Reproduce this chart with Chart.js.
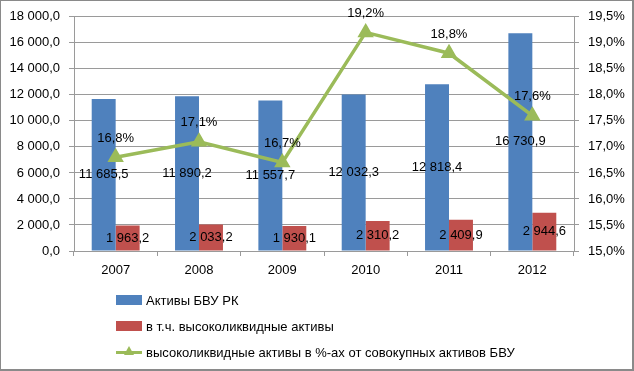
<!DOCTYPE html>
<html>
<head>
<meta charset="utf-8">
<script src="https://cdn.jsdelivr.net/npm/chart.js@4"></script>
<style>
body{margin:0;background:#fff;font-family:"Liberation Sans",Arial,sans-serif;}
#wrap{position:relative;width:634px;height:371px;}
#frame{position:absolute;left:0;top:0;width:634px;height:371px;box-sizing:border-box;border:1px solid #8a8a8a;border-right-width:2px;border-bottom-width:2px;pointer-events:none;}
.lg{position:absolute;left:116px;height:16px;display:flex;align-items:center;font-size:13px;color:#000;}
.sw{width:26px;height:10px;margin-right:4px;}
.ln{position:relative;width:26px;height:3px;background:#9bbb59;margin-right:4px;}
.ln i{position:absolute;left:8px;top:-5px;width:0;height:0;border-left:5px solid transparent;border-right:5px solid transparent;border-bottom:9px solid #9bbb59;}
</style>
</head>
<body>
<div id="wrap">
<canvas id="c" width="634" height="371"></canvas>
<div class="lg" style="top:292px"><div class="sw" style="background:#4f81bd"></div>Активы БВУ РК</div>
<div class="lg" style="top:318px"><div class="sw" style="background:#c0504d"></div>в т.ч. высоколиквидные активы</div>
<div class="lg" style="top:344px"><div class="ln"><i></i></div>высоколиквидные активы в %-ах от совокупных активов БВУ</div>
<div id="frame"></div>
</div>
<script>
/* ══ DATA ══ */
const years=['2007','2008','2009','2010','2011','2012'];
const assets=[11685.5,11890.2,11557.7,12032.3,12818.4,16730.9];
const liquid=[1963.2,2033.2,1930.1,2310.2,2409.9,2944.6];
const sharePct=[16.8,17.1,16.7,19.2,18.8,17.6];
const seriesNames=['Активы БВУ РК','в т.ч. высоколиквидные активы','высоколиквидные активы в %-ах от совокупных активов БВУ'];

const FONT='"Liberation Sans", Arial, sans-serif';
const GRID='#9a9a9a';
function num(v){const p=v.toFixed(1).split('.');return p[0].replace(/\B(?=(\d{3})+(?!\d))/g,' ')+','+p[1];}
function pct(v){return v.toFixed(1).replace('.',',')+'%';}

// value labels: bars centred, line points above
const valueLabels={id:'valueLabels',afterDatasetsDraw(c){
  const ctx=c.ctx;ctx.save();
  ctx.font='13px '+FONT;ctx.fillStyle='#000';ctx.textAlign='center';ctx.textBaseline='middle';
  c.data.datasets.forEach((ds,i)=>{
    c.getDatasetMeta(i).data.forEach((el,j)=>{
      const v=ds.data[j];
      if(ds.type==='line') ctx.fillText(pct(v),el.x,el.y-19);
      else ctx.fillText(num(v),el.x,(el.y+el.base)/2);
    });
  });
  ctx.restore();
}};

new Chart(document.getElementById('c'),{
  data:{labels:years,datasets:[
    {type:'bar',label:seriesNames[0],data:assets,backgroundColor:'#4f81bd',yAxisID:'y',order:1,categoryPercentage:0.575,barPercentage:1},
    {type:'bar',label:seriesNames[1],data:liquid,backgroundColor:'#c0504d',yAxisID:'y',order:2,categoryPercentage:0.575,barPercentage:1},
    {type:'line',label:seriesNames[2],data:sharePct,yAxisID:'y1',order:0,borderColor:'#9bbb59',borderWidth:3.5,
     pointStyle:'triangle',pointRadius:6,pointBackgroundColor:'#9bbb59',pointBorderColor:'#9bbb59',tension:0}
  ]},
  options:{
    responsive:false,animation:false,
    layout:{padding:{top:16,bottom:80,left:0,right:0}},
    plugins:{legend:{display:false},tooltip:{enabled:false}},
    scales:{
      x:{grid:{offset:true,drawOnChartArea:false,tickLength:5,color:GRID},border:{color:GRID},
         ticks:{font:{family:FONT,size:13},color:'#000',padding:7},
         afterFit(s){s.height=40;}},
      y:{position:'left',min:0,max:18000,grid:{color:GRID,tickLength:5},border:{color:GRID},
         ticks:{stepSize:2000,font:{family:FONT,size:13},color:'#000',padding:9,callback:v=>num(v)},
         afterFit(s){s.width=74;}},
      y1:{position:'right',min:15,max:19.5,grid:{drawOnChartArea:false,color:GRID,tickLength:5},border:{color:GRID},
         ticks:{stepSize:0.5,font:{family:FONT,size:13},color:'#000',padding:9,callback:v=>pct(v)},
         afterFit(s){s.width=60;}}
    }
  },
  plugins:[valueLabels]
});
</script>
</body>
</html>
